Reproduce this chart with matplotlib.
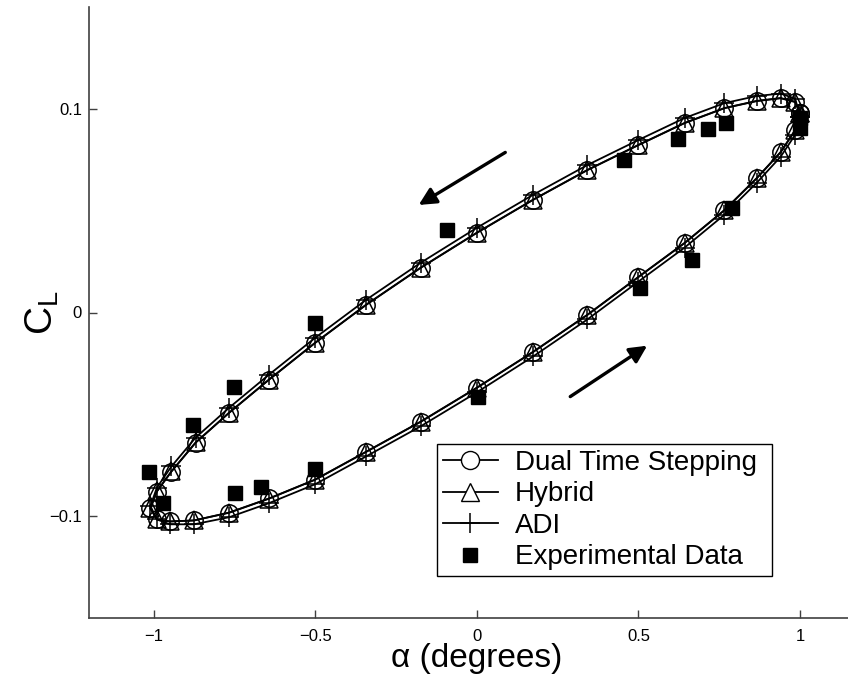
import matplotlib
matplotlib.use("Agg")
import matplotlib.pyplot as plt
from matplotlib.lines import Line2D

plt.rcParams['font.family'] = ['Liberation Sans', 'DejaVu Sans']
plt.rcParams['mathtext.default'] = 'regular'

# angle of attack over one cycle (degrees)
alpha = [1.0, 0.985, 0.94, 0.866, 0.766, 0.643, 0.5, 0.342, 0.174, 0.0,
         -0.174, -0.342, -0.5, -0.643, -0.766, -0.870, -0.945, -0.99, -1.01,
         -0.99, -0.95, -0.875, -0.766, -0.643, -0.5, -0.342, -0.174, 0.0,
         0.174, 0.342, 0.5, 0.643, 0.766, 0.866, 0.94, 0.985, 1.0]

cl_dual = [0.0979, 0.1033, 0.1052, 0.1038, 0.1003, 0.0930, 0.0822, 0.0699,
           0.0553, 0.0391, 0.0219, 0.0038, -0.0149, -0.0330, -0.0492, -0.0639,
           -0.0781, -0.0879, -0.0962, -0.1016, -0.1026, -0.1021, -0.0982,
           -0.0913, -0.0820, -0.0683, -0.0536, -0.0369, -0.0193, -0.0011,
           0.0175, 0.0342, 0.0503, 0.0660, 0.0788, 0.0896, 0.0979]

cl_hybrid = [0.0981, 0.1035, 0.1053, 0.1039, 0.1004, 0.0931, 0.0823, 0.0700,
             0.0554, 0.0392, 0.0220, 0.0039, -0.0148, -0.0329, -0.0491, -0.0638,
             -0.0780, -0.0878, -0.0961, -0.1016, -0.1026, -0.1021, -0.0983,
             -0.0914, -0.0821, -0.0684, -0.0537, -0.0370, -0.0194, -0.0012,
             0.0174, 0.0341, 0.0502, 0.0659, 0.0787, 0.0895, 0.0981]

cl_adi = [0.0960, 0.1050, 0.1075, 0.1063, 0.1028, 0.0955, 0.0847, 0.0724,
          0.0578, 0.0416, 0.0244, 0.0063, -0.0124, -0.0305, -0.0467, -0.0614,
          -0.0756, -0.0860, -0.0950, -0.1016, -0.1040, -0.1040, -0.1005,
          -0.0936, -0.0843, -0.0706, -0.0559, -0.0392, -0.0216, -0.0034,
          0.0152, 0.0319, 0.0480, 0.0637, 0.0765, 0.0873, 0.0960]

exp_alpha = [-1.014, -0.877, -0.750, -0.500, -0.092, 0.456, 0.621, 0.714,
             0.770, 1.0, 1.0, 0.790, 0.666, 0.505, 0.004, -0.500, -0.667,
             -0.747, -0.970]
exp_cl = [-0.0781, -0.0550, -0.0364, -0.0054, 0.0406, 0.0749, 0.0852, 0.0901,
          0.0930, 0.0954, 0.0905, 0.0513, 0.0258, 0.0121, -0.0413, -0.0768,
          -0.0857, -0.0886, -0.0935]

xticks = [-1, -0.5, 0, 0.5, 1]
xticklabels = ['\u22121', '\u22120.5', '0', '0.5', '1']
yticks = [-0.1, 0, 0.1]
yticklabels = ['\u22120.1', '0', '0.1']
labels = ['Dual Time Stepping', 'Hybrid', 'ADI', 'Experimental Data']

fig = plt.figure(figsize=(8.48, 6.82), dpi=100)
# axes runs to alpha = 1.2, a bit past the right edge of the picture
ax = fig.add_axes([89 / 848, 64 / 682, 775.7 / 848, 611 / 682])

lw = 1.3
ax.plot(alpha, cl_dual, '-', color='k', lw=lw, marker='o', ms=12.5,
        mfc='none', mec='k', mew=1.1)
ax.plot(alpha, cl_hybrid, '-', color='k', lw=lw, marker='^', ms=12.5,
        mfc='none', mec='k', mew=1.1)
ax.plot(alpha, cl_adi, '-', color='k', lw=lw, marker='+', ms=14, mew=1.1)
ax.plot(exp_alpha, exp_cl, 's', color='k', ms=10.5, mec='k')

# direction arrows
arrow = dict(arrowstyle='-|>', color='k', lw=2.4, mutation_scale=26,
             shrinkA=0, shrinkB=0)
ax.annotate('', xy=(-0.18, 0.0528), xytext=(0.088, 0.0786), arrowprops=arrow)
ax.annotate('', xy=(0.527, -0.0163), xytext=(0.289, -0.0413), arrowprops=arrow)

ax.set_xlim(-1.2, 1.2)
ax.set_ylim(-0.15, 0.15)
ax.set_xticks(xticks)
ax.set_xticklabels(xticklabels)
ax.set_yticks(yticks)
ax.set_yticklabels(yticklabels)
ax.tick_params(direction='in', length=6, width=1, color='#404040',
               labelsize=12, top=False, right=False)
ax.tick_params(axis='x', pad=8)
ax.tick_params(axis='y', pad=5)
for s in ['top', 'right']:
    ax.spines[s].set_visible(False)
for s in ['left', 'bottom']:
    ax.spines[s].set_color('#404040')
    ax.spines[s].set_linewidth(1.2)

ax.set_xlabel('\u03b1 (degrees)', fontsize=24)
ax.xaxis.set_label_coords(0.5, -0.041)
ax.set_ylabel('$C_L$', fontsize=28)
ax.yaxis.set_label_coords(-0.036, 0.5)

handles = [
    Line2D([], [], color='k', lw=lw, marker='o', ms=13, mfc='white', mec='k'),
    Line2D([], [], color='k', lw=lw, marker='^', ms=13, mfc='white', mec='k'),
    Line2D([], [], color='k', lw=lw, marker='+', ms=14, mew=1.1),
    Line2D([], [], ls='none', marker='s', color='k', ms=10.5),
]
leg = ax.legend(handles, labels, loc='lower left', mode='expand',
                bbox_to_anchor=(0.4486, 0.0687, 0.4319, 0.2177),
                borderaxespad=0, fontsize=20, handlelength=2.0,
                handletextpad=0.6, labelspacing=0.2, borderpad=0.2,
                fancybox=False, framealpha=1, edgecolor='k')
leg.get_frame().set_linewidth(1.0)

fig.savefig('out.png', dpi=100, facecolor='white')
